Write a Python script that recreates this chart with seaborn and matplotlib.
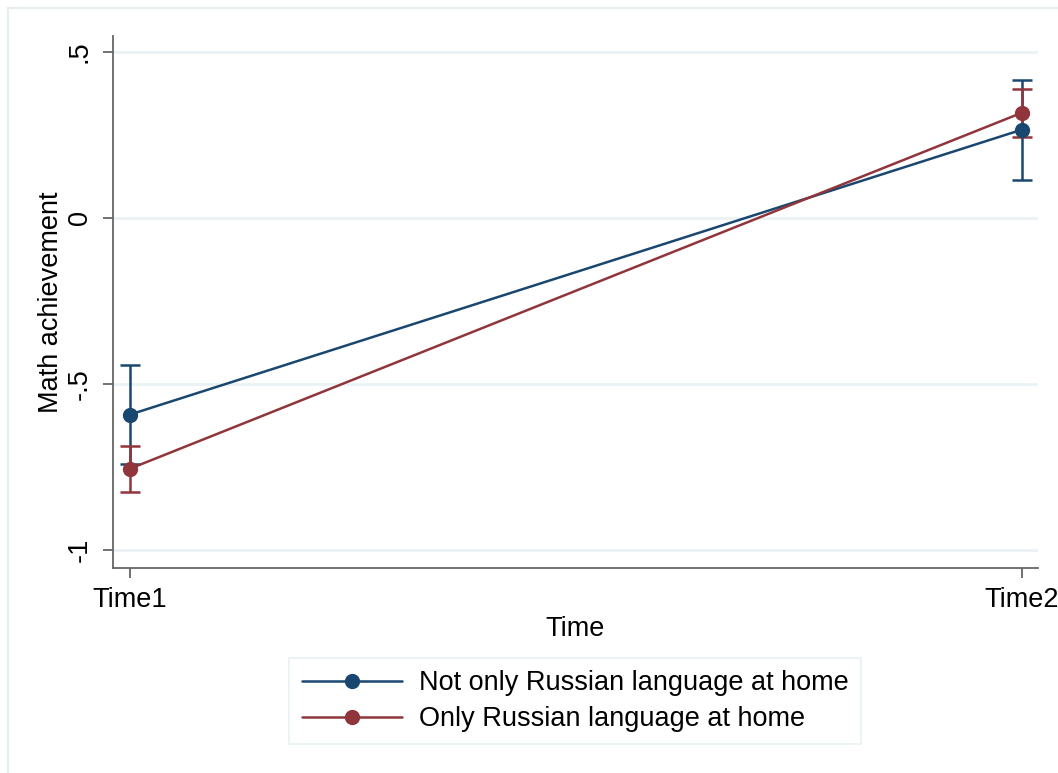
import numpy as np
import pandas as pd
import matplotlib
matplotlib.use("Agg")
import matplotlib.pyplot as plt
import seaborn as sns
from matplotlib.lines import Line2D

# Margins of math achievement by time and home language
times = ["Time1", "Time2"]
groups = ["Not only Russian language at home", "Only Russian language at home"]
means_not_only = [-0.592, 0.266]
lower_not_only = [-0.740, 0.115]
upper_not_only = [-0.444, 0.417]
means_only = [-0.755, 0.317]
lower_only = [-0.825, 0.245]
upper_only = [-0.686, 0.387]
yticks = [-1, -0.5, 0, 0.5]
ytick_labels = ["-1", "-.5", "0", ".5"]

colors = {groups[0]: "#1a476f", groups[1]: "#90353b"}

df = pd.DataFrame({
    "x": [0, 1, 0, 1],
    "Time": times * 2,
    "group": [groups[0]] * 2 + [groups[1]] * 2,
    "mean": means_not_only + means_only,
    "lo": lower_not_only + lower_only,
    "hi": upper_not_only + upper_only,
})

sns.set_theme(style="white")
plt.rcParams["font.family"] = ["Liberation Sans", "DejaVu Sans"]
plt.rcParams["text.color"] = "black"
plt.rcParams["axes.labelcolor"] = "black"
plt.rcParams["xtick.color"] = "black"
plt.rcParams["ytick.color"] = "black"

FS = 19.5

fig = plt.figure(figsize=(10.58, 7.73), dpi=100)
ax = fig.add_axes([113 / 1058, 1 - 568 / 773, (1038 - 113) / 1058, (568 - 36) / 773])

for i, g in enumerate(groups):
    sub = df[df["group"] == g]
    ax.errorbar(sub["x"], sub["mean"],
                yerr=[sub["mean"] - sub["lo"], sub["hi"] - sub["mean"]],
                fmt="none", ecolor=colors[g], elinewidth=1.8, capsize=7,
                capthick=1.8, zorder=3 + i)

sns.lineplot(data=df, x="x", y="mean", hue="group", palette=colors,
             marker="o", markersize=11, markeredgewidth=0, linewidth=1.8,
             ax=ax, legend=False, zorder=5, estimator=None, sort=False)

ax.set_xlim(-0.019, 1.018)
ax.set_ylim(-1.054, 0.548)
ax.set_xticks([0, 1])
ax.set_xticklabels(times, fontsize=FS)
ax.set_yticks(yticks)
ax.set_yticklabels(ytick_labels, fontsize=FS, rotation=90, va="center")
ax.set_xlabel("Time", fontsize=FS, labelpad=2)
ax.set_ylabel("Math achievement", fontsize=FS, labelpad=2)

for y in yticks:
    ax.axhline(y, color="#eaf2f3", linewidth=2, zorder=0)

for side in ["top", "right"]:
    ax.spines[side].set_visible(False)
for side in ["left", "bottom"]:
    ax.spines[side].set_color("#666666")
    ax.spines[side].set_linewidth(1.3)
ax.tick_params(axis="both", which="major", length=7.5, width=1.3,
               color="#666666", direction="out", left=True, bottom=True)
ax.tick_params(axis="x", pad=6)
ax.tick_params(axis="y", pad=7)

handles = [Line2D([0], [0], color=colors[g], linewidth=1.8, marker="o",
                  markersize=11, markeredgewidth=0) for g in groups]
leg = fig.legend(handles, groups, loc="center",
                 bbox_to_anchor=(575 / 1058, 1 - 701 / 773),
                 fontsize=FS, frameon=True, fancybox=False,
                 handlelength=3.7, handletextpad=0.62, labelspacing=0.37,
                 borderpad=0.45, borderaxespad=0)
leg.get_frame().set_edgecolor("#e3eef0")
leg.get_frame().set_linewidth(1.2)

# Outer graph region border (top and left edges)
fig.add_artist(Line2D([8 / 1058, 1], [1 - 8 / 773, 1 - 8 / 773],
                      transform=fig.transFigure, color="#e6eef0", linewidth=1.5))
fig.add_artist(Line2D([8 / 1058, 8 / 1058], [0, 1 - 8 / 773],
                      transform=fig.transFigure, color="#e6eef0", linewidth=1.5))

fig.savefig("out.png", dpi=100, facecolor="white")
